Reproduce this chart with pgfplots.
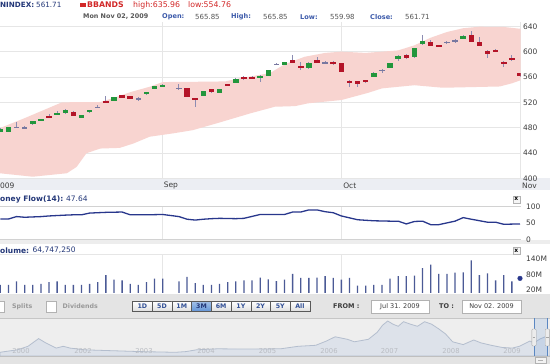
\documentclass[border=0pt]{standalone}
\usepackage{pgfplots}
\pgfplotsset{compat=1.18}
\usepackage{pgfplotstable}
\usepackage{fontspec}
\setmainfont{DejaVu Sans}

\definecolor{cgreen}{RGB}{34,150,60}
\definecolor{cred}{RGB}{180,20,40}
\definecolor{cwick}{RGB}{140,140,178}
\definecolor{cdoji}{RGB}{120,120,160}
\definecolor{bandpink}{RGB}{248,212,208}
\definecolor{gridc}{RGB}{230,230,230}
\definecolor{dateband}{RGB}{236,238,243}
\definecolor{mfline}{RGB}{40,55,140}
\definecolor{volc}{RGB}{75,90,150}
\definecolor{navy}{RGB}{35,55,120}
\definecolor{hblue}{RGB}{60,90,170}
\definecolor{hgray}{RGB}{85,85,85}
\definecolor{bbred}{RGB}{210,40,40}
\definecolor{labc}{RGB}{60,60,60}
\definecolor{toolbar}{RGB}{228,228,228}
\definecolor{navbg}{RGB}{238,238,238}
\definecolor{navfill}{RGB}{221,226,234}
\definecolor{navlinec}{RGB}{180,190,206}
\definecolor{navlab}{RGB}{185,188,194}
\definecolor{btntext}{RGB}{50,80,150}
\definecolor{selblue}{RGB}{100,150,215}

\pgfplotstableread{
s o h l c
0 473.8 479.5 473 478.5
1 473.6 481.5 472.5 480.5
4 485.3 491 483.7 490.5
5 490.5 494 490 493.6
7 501 506.3 500.5 503.6
8 503.1 509 501 507.4
10 495.7 500.5 494.5 499.5
11 504.2 508.5 503 507.9
14 522 528.5 521.5 527.9
18 532.6 537 532 536.3
19 541.5 546.5 541 546.2
20 544.2 549 543.5 547.8
25 530 538 529.5 537.4
27 535 541 534.5 540.5
29 551 558 550.5 556.8
32 558.4 562.5 552.5 561.5
33 561.5 571.5 561 571
35 579.4 584 578.5 583.2
38 573.7 583 573 582.5
46 560.4 568 560 566.7
48 574.6 582 574 581.6
49 588 594 586 593.6
51 591 605.5 590.5 605.3
52 611.6 626 611 617.3
57 620.4 626 620 625.2
}\greentab

\pgfplotstableread{
s o h l c
6 498.8 501 496 496.3
9 504.7 505.5 498.5 498.8
13 522 529.5 518.5 518.9
15 531 531.5 526.5 527.3
16 529.5 530.5 525 525.7
23 542.6 543 528 528.3
24 526.8 527 512 524.1
26 540.5 541 535 535.8
28 548.9 549.2 547 547.3
30 559.5 562 555 556.3
31 560 561 556.5 557
36 586.8 594.7 581.5 582
37 577.3 583.6 571 574.2
39 586.8 591 582 582.5
41 584.1 585.5 579.5 580.5
42 581.6 582 568 568.3
43 553.6 554.5 544.7 550
44 553.3 554 544.7 549.5
45 555.2 556 551 552
50 594.7 596 589 589.5
53 615.7 618 609 609.4
54 610.5 611 607 607.3
58 626.3 633 615 615.7
59 615.2 623.6 609 609.4
60 601.5 602 590.4 596.8
61 602.6 603.5 599 599.4
62 584.1 585 575.3 580.5
63 590.4 595 585 586.3
64 565.85 565.85 559.98 561.71
}\redtab

\pgfplotstableread{
s o h l c
2 480.5 489.5 479 480
3 479.4 482.6 477.4 479.8
12 512 515.7 510.5 512.5
17 525 528.4 522 525.5
22 542.3 548.4 539 542
34 580 582 579 580.5
40 582 585 580 582.3
47 570.5 572.5 567 571
55 615 617 612 615.3
56 617 620.5 614 617.5
}\dojitab

\pgfplotstableread{
s v
0 40
1 40
2 53.3
3 40
4 40
5 44
6 50.6
7 53.3
8 40
9 40
10 40
11 44
12 50.6
13 77.4
14 60
15 57.3
16 44
17 40
18 50.6
19 64
20 64
22 53.3
23 70.7
24 46.6
25 40
26 40
27 44
28 50.6
29 53.3
30 57.3
31 57.3
32 68
33 61.3
34 54.7
35 60
36 81.4
37 66.7
38 66.7
39 68
40 73.4
41 66.7
42 60
43 66.7
44 37.3
45 37.3
46 40
47 40
48 64
49 73.4
50 73.4
51 75
52 104
53 117.5
54 81.4
55 81.4
56 86.7
57 88
58 133.5
59 77.4
60 84
61 57.3
62 77.4
63 53.3
}\voltab

\pgfplotsset{
  wickstyle/.style={draw=none, mark=none, forget plot,
    error bars/.cd, y dir=both, y explicit, error mark=none,
    error bar style={line width=0.9pt, draw=cwick}},
  bodystyle/.style={draw=none, mark=none, forget plot,
    error bars/.cd, y dir=both, y explicit, error mark=none,
    error bar style={line width=5.5pt, draw=#1}},
}

\newcommand{\fs}[1]{\fontsize{#1}{#1}\selectfont}

\begin{document}
\begin{tikzpicture}[x=1pt,y=1pt,font=\fs{7.5}]
\path[use as bounding box] (0,0) rectangle (550,364);
\fill[white] (0,0) rectangle (550,364);
\fill[dateband] (0,174.3) rectangle (550,185.7);
\fill[gridc!70] (0,120.3) rectangle (550,123.6);
\fill[toolbar] (0,46) rectangle (550,70);
\fill[navbg] (0,0) rectangle (550,46);
\draw[gray!45] (0,46) -- (550,46);
\fill[gray!22] (0,0) rectangle (550,7.6);
\draw[gray!50] (0,8) -- (550,8);

% ---------------- header ----------------
\node[anchor=west,inner sep=0,font=\fs{7.2}\bfseries,text=navy] at (0,359) {NINDEX:};
\node[anchor=west,inner sep=0,font=\fs{7.2},text=navy] at (36,359) {561.71};
\fill[bbred] (80,357.2) rectangle (86,360.6);
\node[anchor=west,inner sep=0,font=\fs{7.8}\bfseries,text=bbred] at (87,359) {BBANDS};
\node[anchor=west,inner sep=0,font=\fs{7.8},text=bbred] at (133,359) {high:635.96};
\node[anchor=west,inner sep=0,font=\fs{7.8},text=bbred] at (188,359) {low:554.76};

\node[anchor=west,inner sep=0,font=\fs{6.4}\bfseries,text=hgray] at (83,347) {Mon Nov 02, 2009};
\node[anchor=west,inner sep=0,font=\fs{6.6}\bfseries,text=hblue] at (162,347) {Open:};
\node[anchor=west,inner sep=0,font=\fs{7},text=hgray] at (195,347) {565.85};
\node[anchor=west,inner sep=0,font=\fs{6.6}\bfseries,text=hblue] at (231,347) {High:};
\node[anchor=west,inner sep=0,font=\fs{7},text=hgray] at (263,347) {565.85};
\node[anchor=west,inner sep=0,font=\fs{6.6}\bfseries,text=hblue] at (300,347) {Low:};
\node[anchor=west,inner sep=0,font=\fs{7},text=hgray] at (330,347) {559.98};
\node[anchor=west,inner sep=0,font=\fs{6.6}\bfseries,text=hblue] at (370,347) {Close:};
\node[anchor=west,inner sep=0,font=\fs{7},text=hgray] at (405,347) {561.71};

% ---------------- main price panel ----------------
\begin{axis}[
  at={(0pt,185.7pt)}, anchor=south west, scale only axis,
  width=520.7pt, height=156.4pt,
  xmin=-0.037, xmax=64.086, ymin=400, ymax=647,
  axis line style={draw=none},
  major tick length=0pt,
  ytick={400,440,480,520,560,600,640},
  yticklabel pos=right,
  yticklabel style={anchor=west, xshift=2.3pt, inner sep=0pt, text=labc, font=\fs{7.5}},
  xtick={19.95,42.05,64.086}, xticklabels={Sep,Oct,Nov},
  xticklabel style={anchor=west, xshift=1.3pt, yshift=-7.2pt, inner sep=0pt, text=labc, font=\fs{7.5}},
  xmajorgrids, ymajorgrids, grid style={gridc, line width=0.6pt},
  /pgf/number format/assume math mode=true,
]
% Bollinger band: upper edge left to right, then lower edge right to left
\addplot[fill=bandpink, draw=none, forget plot] coordinates {
(-0.1,479) (3,495) (7.6,520) (12.3,520.5) (14,527) (16,536) (18.4,544.6) (20,552) (24.6,552.5) (27.7,553) (29.5,558) (33.2,566) (35,580) (37.5,592) (40,598) (42,600) (45,598) (49,602) (51,610) (53,622) (55,631) (57,637) (59,639.4) (62,639) (64.1,636)
(64.1,555) (63,550) (61.5,545) (58,544) (54.5,543) (51,547) (47,542) (45.3,535) (42,523.6) (37.9,518.4) (36.3,514) (33.8,513) (30.8,502.6) (26.7,487) (23.7,476) (21.3,471) (18.4,465.7) (16.4,455) (14.7,448) (12.3,447) (10.6,439.5) (9.4,418) (8.2,408) (4,402.5) (-0.1,408)};

% wicks
\addplot[wickstyle] table[x=s, y expr={(\thisrow{h}+\thisrow{l})/2}, y error expr={(\thisrow{h}-\thisrow{l})/2}] {\greentab};
\addplot[wickstyle] table[x=s, y expr={(\thisrow{h}+\thisrow{l})/2}, y error expr={(\thisrow{h}-\thisrow{l})/2}] {\redtab};
\addplot[wickstyle] table[x=s, y expr={(\thisrow{h}+\thisrow{l})/2}, y error expr={(\thisrow{h}-\thisrow{l})/2}] {\dojitab};
% bodies
\addplot[bodystyle=cgreen] table[x=s, y expr={(\thisrow{o}+\thisrow{c})/2}, y error expr={max(abs(\thisrow{o}-\thisrow{c})/2,0.9)}] {\greentab};
\addplot[bodystyle=cred] table[x=s, y expr={(\thisrow{o}+\thisrow{c})/2}, y error expr={max(abs(\thisrow{o}-\thisrow{c})/2,0.9)}] {\redtab};
\addplot[bodystyle=cdoji] table[x=s, y expr={(\thisrow{o}+\thisrow{c})/2}, y error expr={max(abs(\thisrow{o}-\thisrow{c})/2,0.9)}] {\dojitab};
\end{axis}
\node[anchor=west,inner sep=0,text=labc] at (0,178.5) {009};

% ---------------- money flow panel ----------------
\node[anchor=west,inner sep=0,font=\fs{7.5}\bfseries,text=navy] at (0,165) {oney Flow(14):};
\node[anchor=west,inner sep=0,text=navy] at (66,165) {47.64};
\draw[gray!60, fill=gray!8] (512.8,161) rectangle (520,168.2);
\node[inner sep=0,font=\fs{6}\bfseries] at (516.4,164.8) {x};
\begin{axis}[
  at={(0pt,124.5pt)}, anchor=south west, scale only axis,
  width=520.7pt, height=32.7pt,
  xmin=-0.037, xmax=64.086, ymin=0, ymax=100,
  axis line style={draw=none},
  major tick length=0pt,
  ytick={0,50,100}, yticklabel pos=right,
  yticklabel style={anchor=west, xshift=5.3pt, inner sep=0pt, text=labc, font=\fs{7.5}},
  xtick={19.95,42.05}, xticklabels={},
  xmajorgrids, grid style={gridc, line width=0.6pt},
  extra y ticks={0,100}, extra y tick labels={},
  extra y tick style={grid=major, major grid style={gray!35, line width=0.7pt}},
  /pgf/number format/assume math mode=true,
]
\addplot[mfline, line width=1.3pt, line join=round] coordinates {
(0,62.6) (1,62.6) (2,70.1) (3,68) (4,69) (5,70) (6,72) (7,73.3) (8,74.5) (9,75.5) (10,75.5) (11,80.8) (13,83) (15,84) (16,75.5) (18,75.5) (20,76.5) (22,70.1) (23,62) (24,59.4) (25,62) (26,63.7) (27,64.7) (29,63.7) (30,64.7) (32,76.5) (35,76.5) (36,84) (37,84) (38,90.5) (39,90.5) (40,85) (41,81.9) (42,72) (44,60.4) (46,57.2) (48,56.1) (49,56.1) (50,47.6) (51,55.1) (52,56.1) (53,45.4) (54,45.4) (56,56.1) (57,66.9) (58,62) (60,52.9) (61,52.9) (62,46.5) (64,47.64)};
\end{axis}

% ---------------- volume panel ----------------
\node[anchor=west,inner sep=0,font=\fs{7.5}\bfseries,text=navy] at (0,113.5) {olume:};
\node[anchor=west,inner sep=0,text=navy] at (32.5,113.5) {64,747,250};
\begin{axis}[
  at={(0pt,71pt)}, anchor=south west, scale only axis,
  width=520.7pt, height=38.5pt,
  xmin=-0.037, xmax=64.086, ymin=9, ymax=155.7,
  axis line style={draw=none},
  major tick length=0pt,
  ytick={20,80,140}, yticklabels={20M,80M,140M}, yticklabel pos=right,
  yticklabel style={anchor=west, xshift=5.3pt, inner sep=0pt, text=labc, font=\fs{7.5}},
  xtick={19.95,42.05}, xticklabels={},
  xmajorgrids, grid style={gridc, line width=0.6pt},
  extra y ticks={155.7}, extra y tick labels={},
  extra y tick style={grid=major, major grid style={gridc, line width=0.6pt}},
]
\addplot[ybar, bar width=1.3pt, fill=volc, draw=none, forget plot] table[x=s, y=v] {\voltab};
\addplot[only marks, mark=*, mark size=2.3pt, color=mfline, forget plot] coordinates {(64,64.7)};
\end{axis}
\draw[gray!60, fill=gray!8] (512.8,109.5) rectangle (520,116.7);
\node[inner sep=0,font=\fs{6}\bfseries] at (516.4,113.3) {x};

% ---------------- toolbar ----------------
\draw[gray!60, fill=white] (-5,52) rectangle (4.5,62.5);
\node[anchor=west,inner sep=0,font=\fs{6.3}\bfseries,text=gray!80] at (12,57.5) {Splits};
\draw[gray!60, fill=white] (46.5,52) rectangle (56.5,62.5);
\node[anchor=west,inner sep=0,font=\fs{6.3}\bfseries,text=gray!80] at (62.5,57.5) {Dividends};
\foreach \lab [count=\i from 0] in {1D,5D,1M,3M,6M,1Y,2Y,5Y,All}{
  \pgfmathsetmacro{\bx}{132.5+19.7*\i}
  \ifnum\i=3
    \draw[gray!70!black, top color=selblue!60, bottom color=selblue] (\bx,53) rectangle ++(19.7,9.5);
    \node[inner sep=0,font=\fs{6.3}\bfseries,text=navy] at (\bx+9.85,57.7) {\lab};
  \else
    \draw[gray!70!black, top color=white, bottom color=gray!25] (\bx,53) rectangle ++(19.7,9.5);
    \node[inner sep=0,font=\fs{6.3}\bfseries,text=btntext] at (\bx+9.85,57.7) {\lab};
  \fi
}
\node[anchor=west,inner sep=0,font=\fs{6.5}\bfseries,text=labc] at (333,57.5) {FROM :};
\node[anchor=west,inner sep=0,font=\fs{6.5}\bfseries,text=labc] at (439,57.5) {TO :};
\draw[gray!60, fill=white] (371,51) rectangle (429,64);
\node[inner sep=0,font=\fs{6.5},text=labc] at (400,57.5) {Jul 31. 2009};
\draw[gray!60, fill=white] (462,51) rectangle (521,64);
\node[inner sep=0,font=\fs{6.5},text=labc] at (491.5,57.5) {Nov 02. 2009};

% ---------------- navigator ----------------
\begin{axis}[
  at={(0pt,8pt)}, anchor=south west, scale only axis,
  width=550pt, height=38pt,
  xmin=0, xmax=550, ymin=0, ymax=38,
  axis line style={draw=none}, major tick length=0pt,
  axis on top,
  ytick=\empty,
  xtick={21,83,144,206,267.5,329,389.5,451,512},
  xticklabels={2000,2002,2003,2004,2005,2006,2007,2008,2009},
  xticklabel style={anchor=center, yshift=4.6pt, inner sep=0pt, text=navlab, font=\fs{6.8}},
]
\addplot[fill=navfill, draw=navlinec, line width=0.8pt, forget plot] coordinates {
(0,3.7) (17.5,6.2) (28,9.7) (38.6,17.4) (45.6,13.2) (56.1,7.9) (63.2,9.7) (70.2,7.9) (84.2,6.2) (105.3,5.5) (140.4,4.4) (175.4,3.7) (186,4.4) (196.5,6.2) (217.5,7.2) (245.6,6.9) (280.7,7.2) (298.2,9.7) (315.8,10.7) (326.3,14.9) (335.1,19.2) (347.4,16.7) (354.4,14.2) (368.4,16.7) (377.2,23.7) (382.5,30.7) (387.7,35) (393,31.8) (398.2,29.7) (403.5,34.3) (410.5,31.8) (417.5,29.7) (424.6,34.3) (431.6,31.8) (438.6,27.2) (445.6,22) (452.6,14.2) (463.2,11.4) (473.7,16) (480.7,13.2) (491.2,10.7) (501.8,8.6) (512.3,7.9) (519.3,9.7) (529.8,14.9) (534,13.2) (540,17) (547,20) (550,20)} \closedcycle;
\end{axis}
\fill[selblue, opacity=0.18] (534,8) rectangle (547.4,46);
\draw[selblue!90!black, line width=0.8pt] (534,8) -- (534,46);
\draw[selblue!90!black, line width=0.8pt] (547.4,8) -- (547.4,46);
\draw[gray!70, fill=gray!15, rounded corners=1pt] (531.8,18) rectangle (536.2,35);
\draw[gray!70] (532.6,26.5) -- (535.4,26.5);
\draw[gray!70, fill=gray!15, rounded corners=1pt] (545.2,18) rectangle (549.6,35);
\draw[gray!70] (546,26.5) -- (548.8,26.5);
\draw[gray!60, fill=gray!10] (535,0.8) rectangle (546,6.8);
\draw[gray!60] (538,3.8) -- (543,3.8);
\end{tikzpicture}
\end{document}
